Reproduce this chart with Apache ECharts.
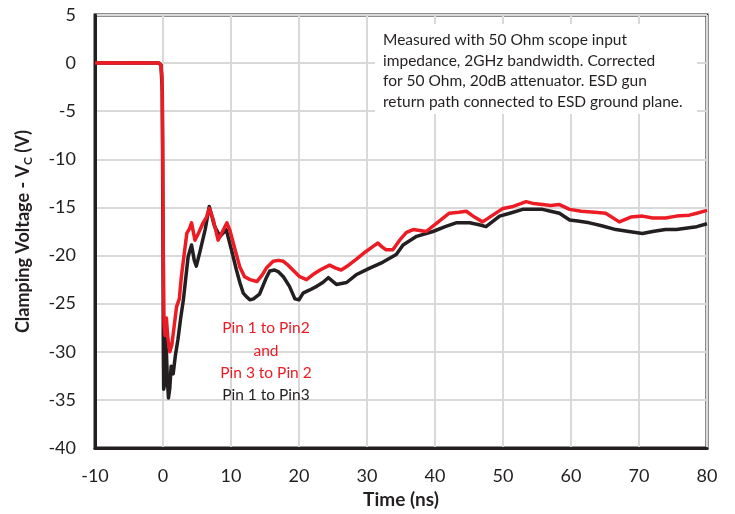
<!DOCTYPE html>
<html><head><meta charset="utf-8">
<script src="https://cdn.jsdelivr.net/npm/echarts@6/dist/echarts.min.js"></script>
<style>html,body{margin:0;padding:0;background:#fff}#c{width:735px;height:514px}</style>
</head><body><div id="c"></div>
<script>
const xTicks = [-10, 0, 10, 20, 30, 40, 50, 60, 70, 80];
const yTicks = [-40, -35, -30, -25, -20, -15, -10, -5, 0, 5];

const redTime = [-10,-8,-6,-4,-2,-0.6,-0.3,-0.15,-0.05,0.05,0.15,0.3,0.5,0.7,1.0,1.3,1.7,2.0,2.4,2.7,3.0,3.2,3.5,3.9,4.2,4.7,5.2,5.9,6.4,6.8,7.4,8.1,8.6,9.4,9.8,10.6,11.3,12.0,12.8,13.8,14.6,15.2,16.2,17.0,17.7,18.4,19.1,20.1,21.1,22.0,23.1,24.5,25.4,26.2,27.3,28.4,29.8,31.0,31.6,32.2,32.8,33.8,34.8,35.8,36.8,38.7,40.3,42.1,43.5,44.6,45.8,47.0,48.5,50.0,51.5,53.4,54.5,55.8,57.0,58.3,59.8,61.5,63.5,65.1,67.1,68.8,70.5,72.0,73.9,75.5,77.4,78.5,80];
const redVolt = [0,0.05,0,0.05,0,0,-0.2,-1.5,-8,-20,-27,-28.3,-26.5,-28.5,-30,-29.3,-27,-25.3,-24.5,-22.2,-20.5,-19.4,-17.7,-17.2,-16.6,-18.4,-17.7,-16.6,-16.0,-15.1,-16.3,-18.4,-17.7,-16.6,-17.3,-19.4,-21.2,-22.2,-22.5,-22.7,-22.0,-21.3,-20.6,-20.5,-20.6,-21.0,-21.5,-22.2,-22.5,-22.0,-21.5,-21.0,-21.3,-21.5,-21.0,-20.4,-19.6,-19.0,-18.7,-19.1,-19.4,-19.4,-18.4,-17.6,-17.3,-17.5,-16.6,-15.6,-15.5,-15.4,-16.0,-16.5,-15.8,-15.1,-14.9,-14.4,-14.6,-14.7,-14.8,-14.7,-15.2,-15.4,-15.5,-15.6,-16.5,-16.0,-15.9,-16.1,-16.1,-15.9,-15.8,-15.6,-15.3];

const blackTime = [-10,-8,-6,-4,-2,-0.6,-0.3,-0.1,0.0,0.05,0.1,0.2,0.35,0.5,0.65,0.8,1.0,1.2,1.5,1.8,2.2,2.6,3.0,3.4,3.7,4.2,4.6,4.9,5.4,6.2,6.8,7.6,8.4,9.3,10.1,10.8,11.3,11.8,12.3,12.8,13.3,14.2,15.2,15.7,16.4,17.0,17.7,18.6,19.4,20.0,20.6,21.5,22.6,23.5,24.3,25.5,27.0,28.4,30.4,32.3,34.3,35.3,37.3,39.7,41.5,43.1,45.1,46.5,47.5,49.5,51.0,52.9,55.8,57.0,58.3,59.8,61.0,62.7,64.5,66.6,68.5,70.5,72.0,73.9,75.5,77.4,78.5,80];
const blackVolt = [0,0.05,0,0.05,0,0,-0.2,-3,-20,-30,-33.9,-33.5,-28.5,-30,-33,-34.8,-33.8,-31.5,-32.3,-30.5,-28.7,-26.5,-24.6,-22,-20.1,-18.9,-20.5,-21.1,-19.7,-17.3,-14.9,-17.0,-18.0,-17.3,-19.5,-21.5,-22.8,-23.9,-24.3,-24.6,-24.5,-24.0,-22.3,-21.6,-21.5,-21.7,-22.2,-23.2,-24.5,-24.6,-23.9,-23.6,-23.2,-22.8,-22.3,-23.0,-22.8,-22.0,-21.3,-20.7,-19.9,-18.9,-18.0,-17.5,-17.0,-16.6,-16.6,-16.8,-17.0,-15.9,-15.6,-15.2,-15.2,-15.4,-15.6,-16.3,-16.4,-16.6,-16.9,-17.3,-17.5,-17.7,-17.5,-17.3,-17.3,-17.1,-17.0,-16.7];

const noteLines = [
  'Measured with 50 Ohm scope input',
  'impedance, 2GHz bandwidth. Corrected',
  'for 50 Ohm, 20dB attenuator. ESD gun',
  'return path connected to ESD ground plane.'
];
const redLabel = ['Pin 1 to Pin2', 'and', 'Pin 3 to Pin 2'];
const blackLabel = 'Pin 1 to Pin3';

const FONT = 'Lato, "Open Sans", sans-serif';
const zip = (a, b) => a.map((v, i) => [v, b[i]]);

const chart = echarts.init(document.getElementById('c'), null, {renderer: 'canvas'});
chart.setOption({
  animation: false,
  backgroundColor: '#fff',
  grid: {left: 95, right: 28, top: 15, bottom: 66, containLabel: false, outerBoundsMode: 'none',
         show: true, borderColor: '#231f20', borderWidth: 3, backgroundColor: 'transparent'},
  xAxis: {
    type: 'value', min: xTicks[0], max: xTicks[xTicks.length - 1], interval: 10,
    name: 'Time (ns)', nameLocation: 'middle', nameGap: 41,
    nameTextStyle: {fontFamily: FONT, fontSize: 19, fontWeight: 'bold', color: '#231f20'},
    axisLine: {show: true, onZero: false, lineStyle: {color: '#231f20', width: 3}},
    axisTick: {show: false},
    axisLabel: {fontFamily: FONT, fontSize: 18, color: '#231f20', margin: 19},
    splitLine: {show: true, lineStyle: {color: '#d9d9d9', width: 2}}
  },
  yAxis: {
    type: 'value', min: yTicks[0], max: yTicks[yTicks.length - 1], interval: 5,
    name: '{b|Clamping Voltage - V}{s|C}{b| (V)}', nameLocation: 'middle', nameGap: 61, nameRotate: 90,
    nameTextStyle: {rich: {
      b: {fontFamily: FONT, fontSize: 18, fontWeight: 'bold', color: '#231f20'},
      s: {fontFamily: FONT, fontSize: 12, fontWeight: 'bold', color: '#231f20', verticalAlign: 'bottom', padding: [9, 0, 0, 0]}
    }},
    axisLine: {show: true, onZero: false, lineStyle: {color: '#231f20', width: 3}},
    axisTick: {show: false},
    axisLabel: {fontFamily: FONT, fontSize: 18, color: '#231f20', margin: 19},
    splitLine: {show: true, lineStyle: {color: '#d9d9d9', width: 2}}
  },
  series: [
    {type: 'line', name: 'Pin 1 to Pin3', data: zip(blackTime, blackVolt), showSymbol: false, z: 3,
     lineStyle: {color: '#231f20', width: 3.5, join: 'round'}},
    {type: 'line', name: 'Pin 1 to Pin2', data: zip(redTime, redVolt), showSymbol: false, z: 4,
     lineStyle: {color: '#ed1c24', width: 3.5, join: 'round'}}
  ],
  graphic: [
    {type: 'rect', left: 375, top: 24, z: 10, shape: {width: 322, height: 90}, style: {fill: '#fff'}},
    {type: 'text', left: 383, top: 30, z: 11, style: {text: noteLines.join('\n'), fontFamily: FONT, fontSize: 15.5, lineHeight: 20.5, fill: '#231f20'}},
    {type: 'text', x: 266, y: 317, z: 11, style: {text: redLabel.join('\n'), textAlign: 'center', fontFamily: FONT, fontSize: 15.5, lineHeight: 22.5, fill: '#ed1c24'}},
    {type: 'text', x: 266, y: 387, z: 11, style: {text: blackLabel, textAlign: 'center', fontFamily: FONT, fontSize: 15.5, fill: '#231f20'}}
  ]
});
</script></body></html>
